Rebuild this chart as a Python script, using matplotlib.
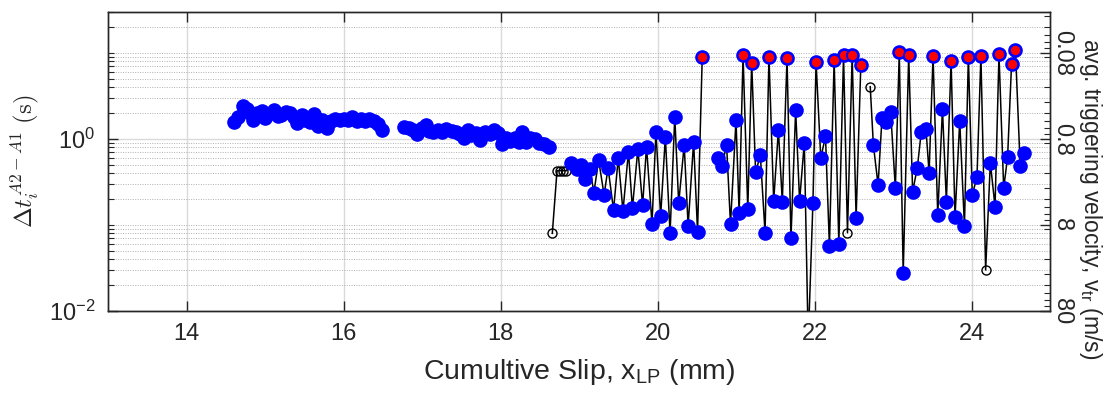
import numpy as np
import matplotlib
matplotlib.use("Agg")
import matplotlib.pyplot as plt
from matplotlib.ticker import FixedLocator, NullFormatter, LogLocator

plt.rcParams['font.family'] = ['Liberation Sans', 'DejaVu Sans']

# ---- data -------------------------------------------------------------
# segment A (blue, dense)
seg_a_x = [14.61, 14.66, 14.72, 14.77, 14.81, 14.85, 14.90, 14.96, 15.00, 15.04,
           15.11, 15.16, 15.21, 15.27, 15.32, 15.37, 15.41, 15.47, 15.51, 15.57,
           15.63, 15.68, 15.72, 15.79, 15.84, 15.89, 15.95, 16.01, 16.06, 16.11,
           16.17, 16.22, 16.27, 16.33, 16.39, 16.44, 16.49]
seg_a_dt = [1.56, 1.82, 2.44, 2.23, 1.99, 1.66, 1.99, 2.12, 1.74, 1.94,
            2.17, 1.87, 1.90, 2.04, 1.99, 1.82, 1.52, 1.90, 1.66, 1.56,
            1.94, 1.43, 1.66, 1.33, 1.62, 1.71, 1.66, 1.71, 1.66, 1.82,
            1.62, 1.71, 1.62, 1.71, 1.62, 1.48, 1.27]

# segment B (blue, dense)
seg_b_x = [16.77, 16.83, 16.89, 16.94, 17.00, 17.05, 17.09, 17.14, 17.21, 17.26,
           17.31, 17.38, 17.43, 17.48, 17.54, 17.58, 17.63, 17.69, 17.74, 17.80,
           17.86, 17.92, 17.97, 18.02, 18.07, 18.12, 18.18, 18.23, 18.28, 18.33,
           18.38, 18.44, 18.49, 18.55, 18.62]
seg_b_dt = [1.39, 1.33, 1.27, 1.13, 1.35, 1.45, 1.24, 1.20, 1.27, 1.22,
            1.31, 1.24, 1.20, 1.13, 1.02, 1.27, 1.11, 1.16, 0.974, 1.20,
            1.13, 1.27, 1.16, 0.868, 1.02, 0.948, 1.04, 0.915, 1.20, 0.930,
            1.02, 1.00, 0.891, 0.868, 0.814]

# segment C
seg_c_x = [18.66, 18.72, 18.76, 18.80, 18.84,
           18.90, 18.97, 19.03, 19.08, 19.14, 19.19, 19.25, 19.32, 19.37, 19.44,
           19.50, 19.56, 19.63, 19.68, 19.75, 19.81, 19.86, 19.93, 19.98, 20.04,
           20.10, 20.16, 20.22, 20.27, 20.34, 20.39, 20.46, 20.51, 20.57]
seg_c_dt = [0.080, 0.428, 0.428, 0.428, 0.428,
            0.530, 0.444, 0.499, 0.340, 0.444, 0.238, 0.570, 0.223, 0.464, 0.149,
            0.606, 0.145, 0.712, 0.156, 0.765, 0.169, 0.814, 0.103, 1.22, 0.127,
            1.06, 0.080, 1.82, 0.179, 0.852, 0.098, 0.930, 0.0836, 9.06]
seg_c_kind = list("ooooo" + "b" * 28 + "r")

# segment D
seg_d_x = [20.77, 20.82, 20.88, 20.93, 21.00, 21.04, 21.09, 21.15, 21.20, 21.25,
           21.31, 21.37, 21.42, 21.48, 21.54, 21.59, 21.65, 21.70, 21.76, 21.81,
           21.87, 21.92, 21.98, 22.02, 22.08, 22.14, 22.19, 22.25, 22.31, 22.37,
           22.42, 22.48, 22.53, 22.59]
seg_d_dt = [0.606, 0.485, 0.852, 0.102, 1.66, 0.137, 9.48, 0.152, 7.59, 0.410,
            0.652, 0.0813, 9.06, 0.190, 1.27, 0.187, 8.82, 0.070, 2.17, 0.190,
            0.906, 0.0043, 0.182, 7.80, 0.601, 1.08, 0.057, 8.29, 0.0606, 9.48,
            0.0813, 9.48, 0.122, 7.19]
seg_d_kind = list("bbbbbb" "r" "b" "r" "bbb" "r" "bbb" "r" "bbbbbb" "r" "bbb" "r" "b" "r" "o" "r" "b" "r")

# segment E
seg_e_x = [22.71, 22.75, 22.81, 22.86, 22.91, 22.97, 23.03, 23.08, 23.13, 23.20,
           23.25, 23.31, 23.36, 23.42, 23.46, 23.51, 23.57, 23.63, 23.68, 23.74,
           23.79, 23.85, 23.91, 23.96, 24.01, 24.07, 24.12, 24.18, 24.24, 24.30,
           24.35, 24.41, 24.46, 24.51, 24.56, 24.62, 24.67]
seg_e_dt = [4.06, 0.852, 0.292, 1.77, 1.59, 2.08, 0.267, 10.2, 0.0274, 9.48,
            0.244, 0.464, 1.21, 1.30, 0.406, 9.30, 0.131, 2.23, 0.187, 8.07,
            0.123, 1.63, 0.0974, 9.06, 0.223, 0.365, 9.30, 0.030, 0.530, 0.163,
            9.66, 0.267, 0.623, 7.39, 10.8, 0.489, 0.693]
seg_e_kind = list("o" "bbbbbb" "r" "b" "r" "bbbbb" "r" "bbb" "r" "bbb" "r" "bb" "r" "o" "bb" "r" "bb" "rr" "bb")

x_ticks = [14, 16, 18, 20, 22, 24]
y_ticks = [1e-2, 1e0, 1e2]
y_ticklabels = [r'$\mathregular{10^{-2}}$', r'$\mathregular{10^{0}}$', '']
v_ticks = [0.08, 0.8, 8, 80]
v_ticklabels = ['0.08', '0.8', '8', '80']
V_FACTOR = 0.8  # v_tr = V_FACTOR / dt

segments = [
    (seg_a_x, seg_a_dt, ['b'] * len(seg_a_x)),
    (seg_b_x, seg_b_dt, ['b'] * len(seg_b_x)),
    (seg_c_x, seg_c_dt, seg_c_kind),
    (seg_d_x, seg_d_dt, seg_d_kind),
    (seg_e_x, seg_e_dt, seg_e_kind),
]

# ---- figure -----------------------------------------------------------
fig = plt.figure(figsize=(11.06, 4.0), dpi=100)
ax = fig.add_axes([108 / 1106, 89 / 400, 942 / 1106, 299 / 400])
ax.set_yscale('log')
ax.set_xlim(13, 25)
ax.set_ylim(0.01, 30)

txt = '#262626'
for x, dt, kind in segments:
    x = np.asarray(x); dt = np.asarray(dt); kind = np.asarray(kind)
    ax.plot(x, dt, '-', color='black', lw=1.1, zorder=3,
            marker='o', ms=6.5, mfc='none', mec='black', mew=1.0)
    m = (kind == 'b') | (kind == 'r')
    ax.plot(x[m], dt[m], 'o', ms=9.5, mfc='#0000ff', mec='#0000ff', zorder=4)
    m = kind == 'r'
    ax.plot(x[m], dt[m], 'o', ms=8.0, mfc='#ff0000', mec='#0000ff', mew=1.3, zorder=5)

ax.set_xticks(x_ticks)
ax.set_xticklabels([str(t) for t in x_ticks])
ax.set_yticks(y_ticks)
ax.set_yticklabels(y_ticklabels)
ax.set_ylim(0.01, 30)
minor = [k * 10.0 ** n for n in range(-2, 2) for k in range(1, 10)
         if not (k == 1 and n in (-2, 0))]
ax.yaxis.set_minor_locator(FixedLocator(minor))
ax.yaxis.set_minor_formatter(NullFormatter())
ax.xaxis.set_minor_locator(FixedLocator([]))

ax.set_axisbelow(True)
ax.grid(which='major', axis='both', color='#dadada', lw=1.0, ls='-')
ax.grid(which='minor', axis='y', color='#b0b0b0', lw=0.7, ls=(0, (1, 1.5)))

ax.tick_params(which='both', direction='in', top=True, right=False,
               colors=txt, labelsize=17, pad=9)
ax.tick_params(which='major', length=7, width=1.0)
ax.tick_params(which='minor', length=4, width=0.8)
for s in ax.spines.values():
    s.set_color(txt); s.set_linewidth(1.0)

ax.set_xlabel(r'Cumultive Slip, x$_{\mathregular{LP}}$ (mm)', fontsize=20.5,
              color=txt, labelpad=8)
ax.set_ylabel(r'$\Delta t_i^{A2-A1}\ \mathrm{(s)}$', fontsize=18, color=txt,
              math_fontfamily='cm', labelpad=6)

# right axis: average triggering velocity
ax2 = ax.twinx()
ax2.set_yscale('log')
ax2.set_ylim(V_FACTOR / 0.01, V_FACTOR / 30)
ax2.set_yticks(v_ticks)
ax2.set_yticklabels(v_ticklabels)
ax2.set_ylim(V_FACTOR / 0.01, V_FACTOR / 30)
ax2.yaxis.set_minor_locator(LogLocator(base=10, subs=np.arange(2, 10)))
ax2.yaxis.set_minor_formatter(NullFormatter())
ax2.tick_params(which='both', direction='in', colors=txt, labelsize=17, pad=1)
ax2.tick_params(which='major', length=7, width=1.0)
ax2.tick_params(which='minor', length=4, width=0.8)
for lbl in ax2.get_yticklabels():
    lbl.set_rotation(-90)
    lbl.set_verticalalignment('center')
for s in ax2.spines.values():
    s.set_color(txt); s.set_linewidth(1.0)
ax2.set_ylabel(r'avg. triggering velocity, v$_{\mathregular{tr}}$ (m/s)',
               fontsize=16.5, color=txt, rotation=-90, va='bottom')
ax2.yaxis.set_label_coords(1.029, 0.375)

fig.savefig('out.png', dpi=100)
